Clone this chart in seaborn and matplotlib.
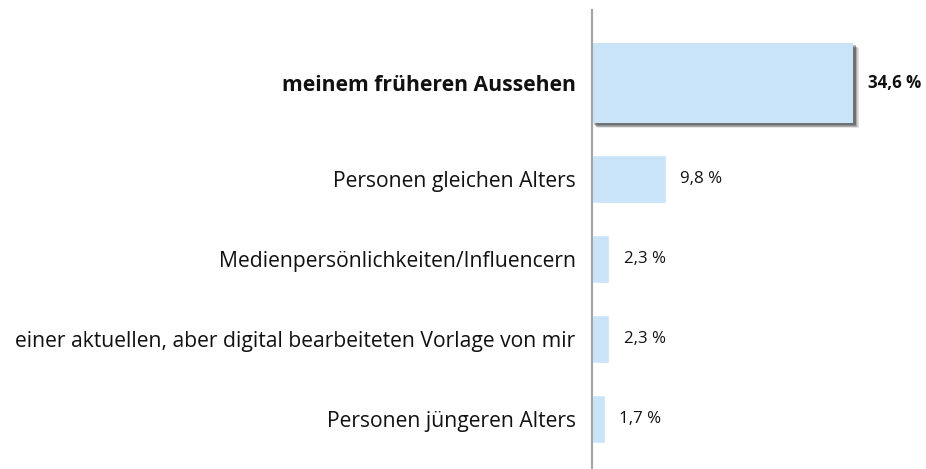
import pandas as pd
import seaborn as sns
from matplotlib import pyplot as plt
from matplotlib import patheffects as pe

categories = ['meinem früheren Aussehen', 'Personen gleichen Alters', 'Medienpersönlichkeiten/Influencern',
              'einer aktuellen, aber digital bearbeiteten Vorlage von mir', 'Personen jüngeren Alters']
values = [34.6, 9.8, 2.3, 2.3, 1.7]
value_labels = ['34,6 %', '9,8 %', '2,3 %', '2,3 %', '1,7 %']

df = pd.DataFrame({'kategorie': categories, 'wert': values})

sns.set_style('white')
plt.rcParams['font.family'] = ['Open Sans', 'DejaVu Sans']

fig = plt.figure(figsize=(9.26, 4.69), dpi=100)
ax = fig.add_axes([0.639, 0.0, 0.361, 0.979])

sns.barplot(data=df, x='wert', y='kategorie', color='#C9E4F8', width=0.6, saturation=1, ax=ax)

# hervorgehobener erster Balken: größer, etwas nach oben, mit weichem Schatten
hl = ax.patches[0]
hl.set_height(1.0)
hl.set_y(-0.7)
hl.set_edgecolor('none')
shadow = [pe.SimplePatchShadow(offset=(o, -o), shadow_rgbFace='#333333', alpha=a)
          for o, a in [(4.0, 0.12), (3.4, 0.15), (2.8, 0.2), (2.2, 0.25), (1.6, 0.3)]]
hl.set_path_effects(shadow + [pe.Normal()])
ax.set_yticks([-0.2, 1, 2, 3, 4])
ax.set_yticklabels(categories)

for i, (v, lab) in enumerate(zip(values, value_labels)):
    yy = -0.2 if i == 0 else i
    ax.annotate(lab, (v, yy), xytext=(10.5, 0), textcoords='offset points', va='center', ha='left',
                fontsize=12.2, fontweight='bold' if i == 0 else 'normal', color='#111111')

ax.set_xlim(0, 44.2)
ax.set_ylim(4.625, -1.11)
ax.set_xlabel('')
ax.set_ylabel('')
ax.set_xticks([])
ax.tick_params(axis='y', length=0, pad=11.5, labelsize=15.2, labelcolor='#111111')
for lbl in ax.get_yticklabels()[:1]:
    lbl.set_fontweight('bold')

for s in ['top', 'right', 'bottom']:
    ax.spines[s].set_visible(False)
ax.spines['left'].set_color('#A5A5A5')
ax.spines['left'].set_linewidth(1.6)

plt.savefig('out.png', dpi=100)
